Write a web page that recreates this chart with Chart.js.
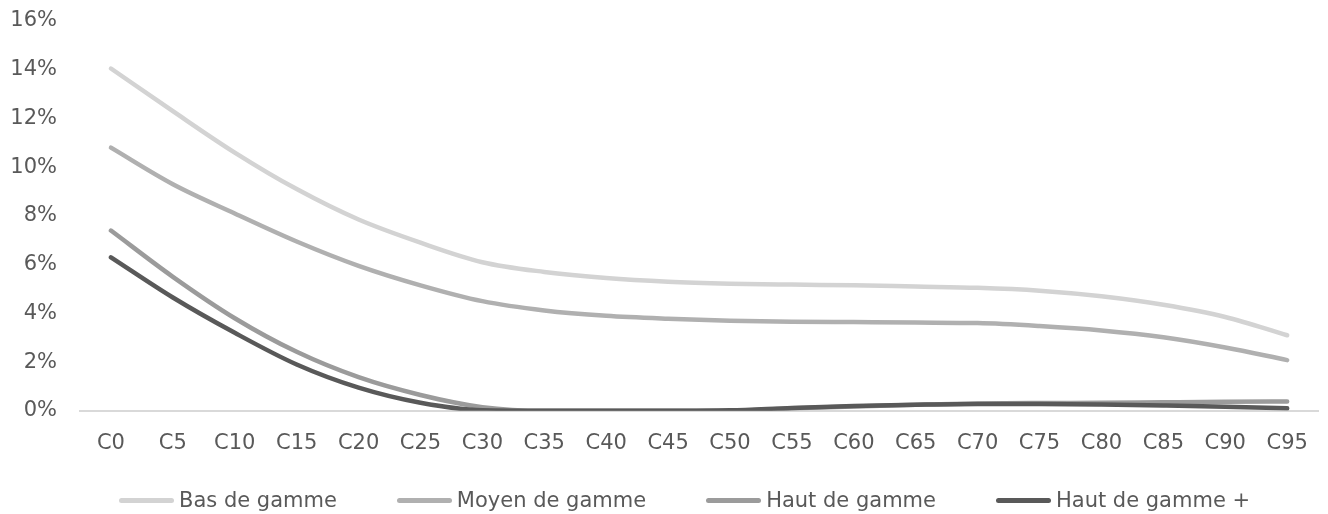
<!DOCTYPE html>
<html>
<head>
<meta charset="utf-8">
<script src="https://cdn.jsdelivr.net/npm/chart.js@4/dist/chart.umd.min.js"></script>
<style>
    body { margin: 0; background: #fff; }
    #wrap { position: relative; width: 1328px; height: 514px; }
    #legend {
        position: absolute; left: 119px; top: 488px;
        display: flex; align-items: center;
        font-family: 'DejaVu Sans', sans-serif; font-size: 21px; color: #595959;
    }
    .item { display: flex; align-items: center; margin-right: 60px; white-space: nowrap; }
    .swatch { width: 55px; height: 5px; border-radius: 3px; margin-right: 5px; }
</style>
</head>
<body>
<div id="wrap">
    <canvas id="chart" width="1328" height="514"></canvas>
    <div id="legend"></div>
</div>
<script>
// Chart data (values in %)
const categories = ['C0', 'C5', 'C10', 'C15', 'C20', 'C25', 'C30', 'C35', 'C40', 'C45',
    'C50', 'C55', 'C60', 'C65', 'C70', 'C75', 'C80', 'C85', 'C90', 'C95'];
const seriesNames = ['Bas de gamme', 'Moyen de gamme', 'Haut de gamme', 'Haut de gamme +'];
const basGamme = [14.05, 12.3, 10.6, 9.1, 7.85, 6.9, 6.1, 5.7, 5.45, 5.3,
    5.22, 5.18, 5.15, 5.1, 5.05, 4.93, 4.7, 4.35, 3.85, 3.1];
const moyenGamme = [10.8, 9.3, 8.1, 6.95, 5.95, 5.15, 4.5, 4.12, 3.9, 3.78,
    3.7, 3.66, 3.64, 3.62, 3.6, 3.48, 3.3, 3.02, 2.6, 2.08];
const hautGamme = [7.4, 5.5, 3.8, 2.42, 1.38, 0.65, 0.15, 0, 0, 0,
    0, 0.1, 0.18, 0.25, 0.3, 0.32, 0.33, 0.35, 0.37, 0.38];
const hautGammePlus = [6.3, 4.65, 3.2, 1.9, 0.95, 0.33, 0.02, 0, 0, 0,
    0.02, 0.12, 0.2, 0.25, 0.28, 0.28, 0.26, 0.22, 0.17, 0.1];
const yTicks = [0, 2, 4, 6, 8, 10, 12, 14, 16];

const colors = ['#d3d3d3', '#b0b0b0', '#9b9b9b', '#595959'];
const allSeries = [basGamme, moyenGamme, hautGamme, hautGammePlus];

const textColor = '#595959';
const font = { family: "'DejaVu Sans', sans-serif", size: 21 };

const datasets = allSeries.map((values, i) => ({
    label: seriesNames[i],
    data: values,
    borderColor: colors[i],
    backgroundColor: colors[i],
    borderWidth: 4.5,
    borderCapStyle: 'round',
    pointRadius: 0,
    cubicInterpolationMode: 'monotone',
    fill: false,
    order: allSeries.length - i   // darker lines on top
}));

new Chart(document.getElementById('chart'), {
    type: 'line',
    data: { labels: categories, datasets: datasets },
    options: {
        responsive: false,
        animation: false,
        layout: { padding: { top: 21, right: 6, bottom: 38, left: 0 } },
        plugins: {
            legend: { display: false },
            tooltip: { enabled: false }
        },
        scales: {
            x: {
                offset: true,
                grid: { display: false, drawTicks: false },
                border: { display: true, color: '#d9d9d9', width: 2 },
                ticks: { color: textColor, font: font, padding: 20, maxRotation: 0 }
            },
            y: {
                min: yTicks[0],
                max: yTicks[yTicks.length - 1],
                afterBuildTicks: (axis) => { axis.ticks = yTicks.map(v => ({ value: v })); },
                afterFit: (axis) => {
                    axis.width = 80;
                    axis.paddingTop = 0;
                    axis.paddingBottom = 0;
                },
                grid: { display: false, drawTicks: false },
                border: { display: false },
                ticks: {
                    color: textColor, font: font, padding: 23,
                    callback: (v) => v + '%'
                }
            }
        }
    }
});

// HTML legend built from the series names/colours
const legend = document.getElementById('legend');
seriesNames.forEach((name, i) => {
    const item = document.createElement('div');
    item.className = 'item';
    const sw = document.createElement('span');
    sw.className = 'swatch';
    sw.style.background = colors[i];
    const txt = document.createElement('span');
    txt.textContent = name;
    item.appendChild(sw);
    item.appendChild(txt);
    legend.appendChild(item);
});
</script>
</body>
</html>
